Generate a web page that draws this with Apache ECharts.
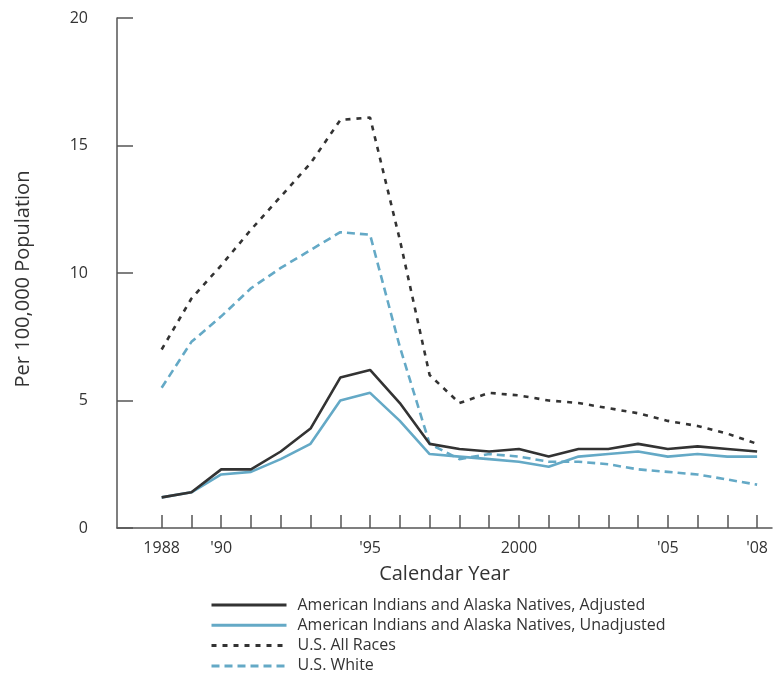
<!DOCTYPE html>
<html>
<head>
<meta charset="utf-8">
<script src="https://cdn.jsdelivr.net/npm/echarts@6/dist/echarts.min.js"></script>
<style>
html,body{margin:0;padding:0;background:#fff;}
#chart{width:779px;height:675px;}
</style>
</head>
<body>
<div id="chart"></div>
<script>
// ---- data ----
const years = [1988,1989,1990,1991,1992,1993,1994,1995,1996,1997,1998,1999,2000,2001,2002,2003,2004,2005,2006,2007,2008];
const aianAdjusted   = [1.2,1.4,2.3,2.3,3.0,3.9,5.9,6.2,4.9,3.3,3.1,3.0,3.1,2.8,3.1,3.1,3.3,3.1,3.2,3.1,3.0];
const aianUnadjusted = [1.2,1.4,2.1,2.2,2.7,3.3,5.0,5.3,4.2,2.9,2.8,2.7,2.6,2.4,2.8,2.9,3.0,2.8,2.9,2.8,2.8];
const usAllRaces     = [7.0,9.0,10.3,11.7,13.0,14.3,16.0,16.1,11.3,6.0,4.9,5.3,5.2,5.0,4.9,4.7,4.5,4.2,4.0,3.7,3.3];
const usWhite        = [5.5,7.3,8.3,9.4,10.2,10.9,11.6,11.5,7.1,3.3,2.7,2.9,2.8,2.6,2.6,2.5,2.3,2.2,2.1,1.9,1.7];
const seriesNames = [
  'American Indians and Alaska Natives, Adjusted',
  'American Indians and Alaska Natives, Unadjusted',
  'U.S. All Races',
  'U.S. White'
];
const xLabelYears = [1988,1990,1995,2000,2005,2008];
const xLabelTexts = ['1988',"'90","'95",'2000',"'05","'08"];
const yTicks = [0,5,10,15,20];

// ---- chart ----
const FONT = '"Open Sans", sans-serif';
const DARK = '#333333';
const BLUE = '#64a9c6';
const AXIS = '#555555';
const pairs = vals => years.map((y,i)=>[y, vals[i]]);

const chart = echarts.init(document.getElementById('chart'), null, {renderer:'canvas'});
chart.setOption({
  animation:false,
  backgroundColor:'#fff',
  textStyle:{fontFamily:FONT, color:'#333'},
  grid:{left:117, right:7, top:18, bottom:147, containLabel:false},
  xAxis:{
    type:'value', min:1986.5, max:2008.5,
    name:'Calendar Year', nameLocation:'middle', nameGap:36,
    nameTextStyle:{fontSize:20, color:'#333', fontFamily:FONT},
    axisLine:{show:true, lineStyle:{color:AXIS, width:1.5}},
    axisTick:{show:true, inside:true, length:13, customValues:years, lineStyle:{color:AXIS, width:1.5}},
    axisLabel:{show:true, margin:12, fontSize:16, color:'#333', fontFamily:FONT,
      customValues:xLabelYears,
      formatter:v=>{const i=xLabelYears.indexOf(Math.round(v)); return i>=0?xLabelTexts[i]:'';}},
    splitLine:{show:false}
  },
  yAxis:{
    type:'value', min:0, max:20, interval:5,
    name:'Per 100,000 Population', nameLocation:'middle', nameGap:84, nameRotate:90,
    nameTextStyle:{fontSize:20, color:'#333', fontFamily:FONT, padding:[0,12,0,0]},
    axisLine:{show:true, lineStyle:{color:AXIS, width:1.5}},
    axisTick:{show:true, inside:true, length:16, customValues:yTicks, lineStyle:{color:AXIS, width:1.5}},
    axisLabel:{show:true, margin:29, fontSize:16, color:'#333', fontFamily:FONT, customValues:yTicks},
    splitLine:{show:false}
  },
  legend:{
    orient:'vertical', left:205, top:592, height:100,
    itemWidth:75, itemHeight:14, itemGap:4.3,
    itemStyle:{opacity:0},
    lineStyle:{width:3},
    data:seriesNames,
    textStyle:{fontSize:16, color:'#333', fontFamily:FONT, padding:[0,0,0,6]}
  },
  series:[
    {name:seriesNames[0], type:'line', data:pairs(aianAdjusted), symbol:'none',
      lineStyle:{color:DARK, width:2.6}, itemStyle:{color:DARK}, z:4},
    {name:seriesNames[1], type:'line', data:pairs(aianUnadjusted), symbol:'none',
      lineStyle:{color:BLUE, width:2.6}, itemStyle:{color:BLUE}, z:3},
    {name:seriesNames[2], type:'line', data:pairs(usAllRaces), symbol:'none',
      lineStyle:{color:DARK, width:2.6, type:[5,6]}, itemStyle:{color:DARK}, z:2},
    {name:seriesNames[3], type:'line', data:pairs(usWhite), symbol:'none',
      lineStyle:{color:BLUE, width:2.6, type:[8,5]}, itemStyle:{color:BLUE}, z:1}
  ]
});
</script>
</body>
</html>
